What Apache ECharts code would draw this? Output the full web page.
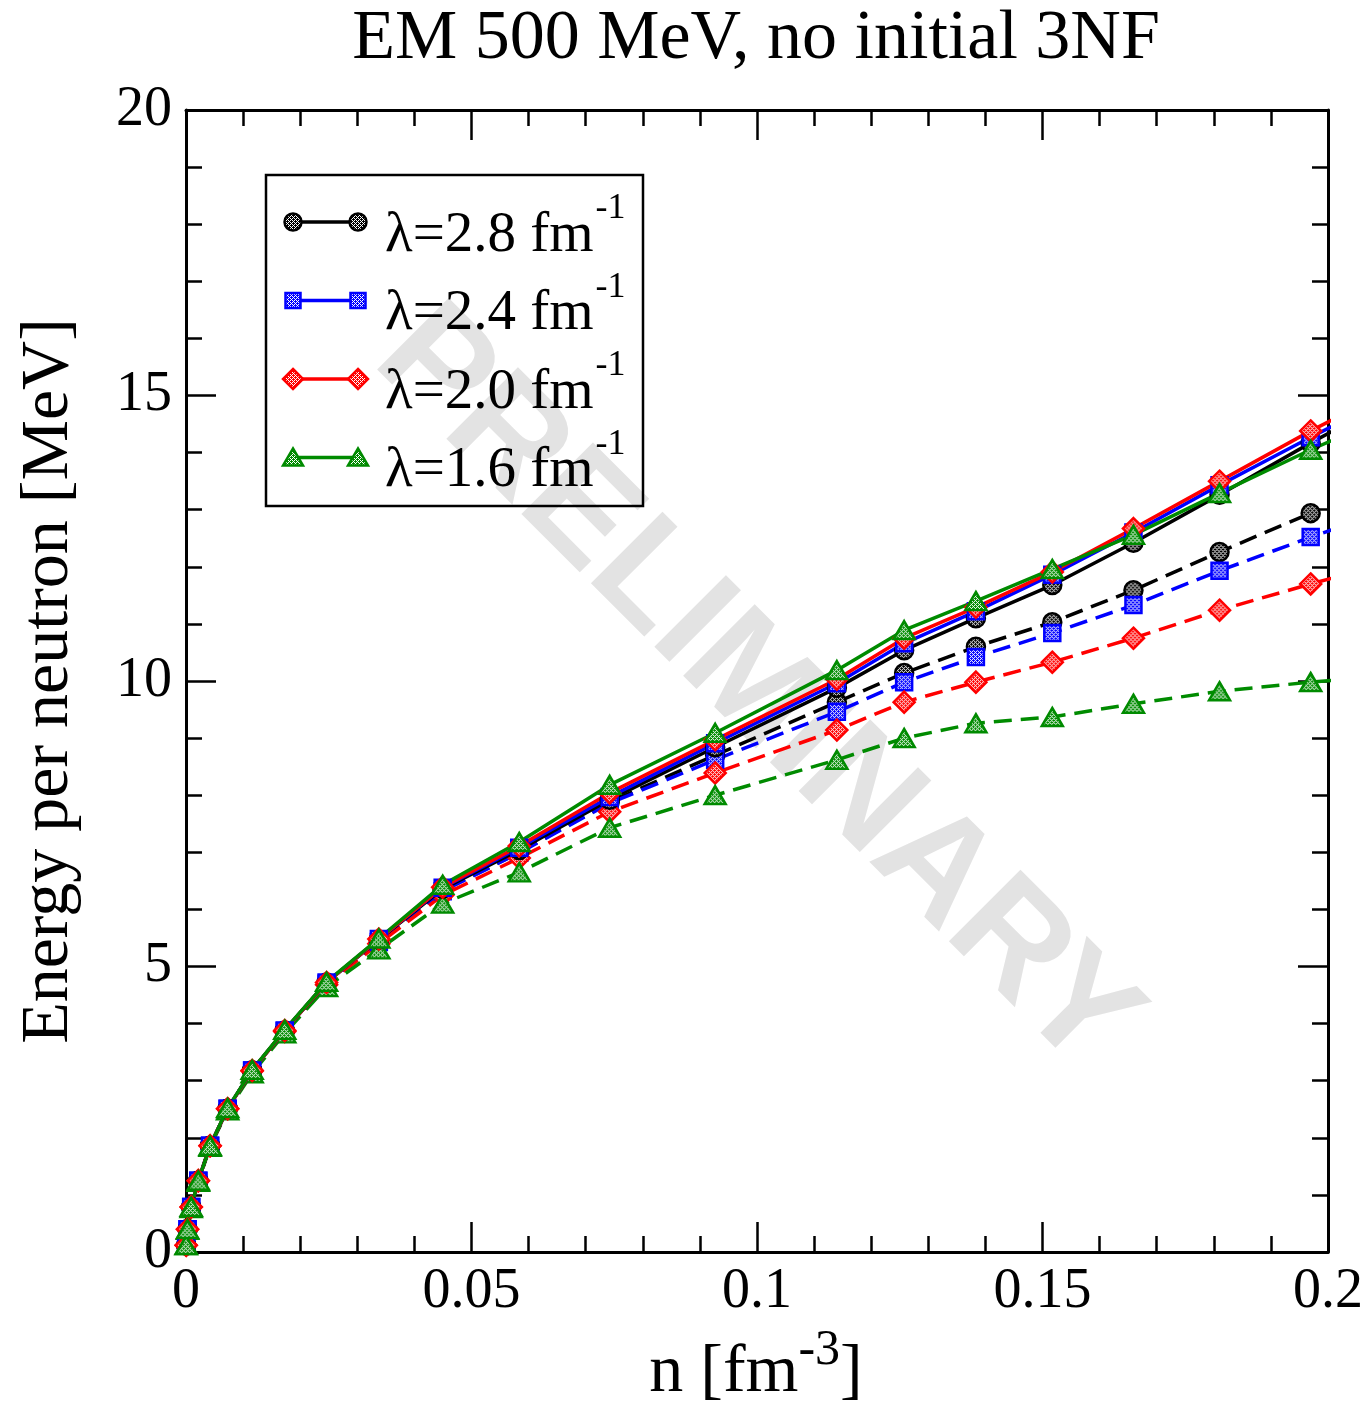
<!DOCTYPE html>
<html><head><meta charset="utf-8">
<script src="https://cdn.jsdelivr.net/npm/echarts/dist/echarts.min.js"></script>
<style>html,body{margin:0;padding:0;background:#fff}#c{width:1372px;height:1410px}</style>
</head><body><div id="c"></div>
<script>
// density n [fm^-3]
const density = [0.0000338,0.000270,0.000912,0.002161,0.004222,0.007295,0.011584,0.017292,0.024621,0.033774,0.044953,0.058361,0.074201,0.092675,0.113986,0.125769,0.138336,0.151715,0.165929,0.181005,0.196967,0.213842];
// solid lines
const solidL28 = [0.12,0.40,0.79,1.25,1.86,2.51,3.18,3.88,4.72,5.47,6.36,7.04,7.92,8.84,9.88,10.54,11.10,11.68,12.42,13.26,14.17,15.08];
const solidL24 = [0.12,0.40,0.79,1.25,1.86,2.51,3.18,3.88,4.72,5.48,6.38,7.08,7.97,8.91,9.96,10.66,11.22,11.86,12.60,13.43,14.27,15.12];
const solidL20 = [0.12,0.40,0.79,1.25,1.86,2.51,3.18,3.88,4.72,5.48,6.39,7.11,8.04,8.97,10.03,10.75,11.29,11.91,12.67,13.50,14.38,15.25];
const solidL16 = [0.12,0.40,0.79,1.25,1.86,2.52,3.19,3.89,4.73,5.49,6.43,7.18,8.18,9.09,10.19,10.89,11.40,11.96,12.56,13.29,14.05,14.78];
// dashed lines
const dashedL28 = [0.12,0.40,0.79,1.25,1.86,2.51,3.18,3.87,4.70,5.44,6.33,7.00,7.88,8.70,9.63,10.14,10.60,11.03,11.59,12.26,12.94];
const dashedL24 = [0.12,0.40,0.79,1.25,1.86,2.51,3.18,3.87,4.70,5.43,6.32,6.99,7.86,8.62,9.46,9.98,10.42,10.84,11.33,11.93,12.52,13.10];
const dashedL20 = [0.12,0.40,0.79,1.25,1.86,2.51,3.17,3.86,4.68,5.40,6.25,6.90,7.71,8.39,9.14,9.63,9.98,10.33,10.75,11.24,11.70,12.15];
const dashedL16 = [0.12,0.39,0.77,1.23,1.84,2.48,3.13,3.83,4.64,5.30,6.10,6.65,7.43,8.00,8.62,9.00,9.26,9.37,9.60,9.82,9.98,10.12];

const legendLabels = ['λ=2.8 fm','λ=2.4 fm','λ=2.0 fm','λ=1.6 fm'];
const legendSup = '-1';
const titleText = 'EM 500 MeV, no initial 3NF';
const yTitle = 'Energy per neutron [MeV]';
const xTitleMain = 'n [fm', xTitleSup = '-3', xTitleEnd = ']';
const watermark = 'PRELIMINARY';

const colors = ['#000000','#0000ff','#ff0000','#008b00'];
const symbols = ['circle','rect','diamond','triangle'];
const symSizes = [[18,18],[16,16],[21,21],[21,18]];
const solids = [solidL28, solidL24, solidL20, solidL16];
const dashes = [dashedL28, dashedL24, dashedL20, dashedL16];

function checker(col){
  const c=document.createElement('canvas'); c.width=4; c.height=4;
  const g=c.getContext('2d'); g.fillStyle=col; g.fillRect(0,0,4,4);
  g.fillStyle='#ffffff';
  g.fillRect(0,0,1,1); g.fillRect(2,2,1,1); g.fillRect(0,2,1,1); g.fillRect(2,0,1,1);
  g.fillRect(1,1,1,1); g.fillRect(3,3,1,1);
  return c;
}
const mctx = document.createElement('canvas').getContext('2d');
function tw(t, font){ mctx.font = font; return mctx.measureText(t).width; }

const SERIF = '"Liberation Serif", "Times New Roman", serif';

function mkSeries(vals, i, dashed){
  const sz = symSizes[i];
  return {
    type:'line', name: legendLabels[i] + (dashed ? ' (dashed)' : ''),
    data: vals.map((v,k)=>[density[k], v]),
    symbol: symbols[i], symbolSize: sz,
    showAllSymbol: true, clip: true, z: dashed ? 3 : 4,
    lineStyle:{color: colors[i], width: 3.5, type: dashed ? [18,9] : 'solid'},
    itemStyle:{color:{image: checker(colors[i]), repeat:'repeat', scaleX: 2/sz[0], scaleY: 2/sz[1]}, borderColor: colors[i], borderWidth: 2.5},
    emphasis:{disabled:true}
  };
}
const series = [];
for (let i=0;i<4;i++) series.push(mkSeries(dashes[i], i, true));
for (let i=0;i<4;i++) series.push(mkSeries(solids[i], i, false));

// graphic elements
const graphic = [];
graphic.push({type:'text', z:1, x:755, y:690, rotation:-Math.PI/4,
  style:{text: watermark, font:'bold 147px "Liberation Sans", Arial, sans-serif', fill:'#e3e3e3', align:'center', verticalAlign:'middle'}});
graphic.push({type:'text', z:10, x:756, y:40,
  style:{text:titleText, font:'70px '+SERIF, fill:'#000', align:'center', verticalAlign:'middle'}});
graphic.push({type:'text', z:10, x:49, y:681, rotation:Math.PI/2,
  style:{text:yTitle, font:'68px '+SERIF, fill:'#000', align:'center', verticalAlign:'middle'}});
// x title with superscript
(function(){
  const fm='68px '+SERIF, fs='50px '+SERIF;
  const w1=tw(xTitleMain,fm), w2=tw(xTitleSup,fs), w3=tw(xTitleEnd,fm);
  const x0 = 756 - (w1+w2+w3)/2, ym = 1373;
  graphic.push({type:'text', z:10, x:x0, y:ym, style:{text:xTitleMain, font:fm, fill:'#000', align:'left', verticalAlign:'middle'}});
  graphic.push({type:'text', z:10, x:x0+w1, y:ym-22, style:{text:xTitleSup, font:fs, fill:'#000', align:'left', verticalAlign:'middle'}});
  graphic.push({type:'text', z:10, x:x0+w1+w2, y:ym, style:{text:xTitleEnd, font:fm, fill:'#000', align:'left', verticalAlign:'middle'}});
})();
// legend box
graphic.push({type:'rect', z:10, shape:{x:266,y:175,width:377,height:331}, style:{fill:null, stroke:'#000', lineWidth:2.5}});
function marker(i, cx, cy){
  const st = {fill:{image: checker(colors[i]), repeat:'repeat'}, stroke: colors[i], lineWidth:2.5};
  if (i===0) return {type:'circle', z:11, shape:{cx, cy, r:8.5}, style:st};
  if (i===1) return {type:'rect', z:11, shape:{x:cx-7.5, y:cy-7.5, width:15, height:15}, style:st};
  if (i===2) return {type:'polygon', z:11, shape:{points:[[cx,cy-10],[cx+10,cy],[cx,cy+10],[cx-10,cy]]}, style:st};
  return {type:'polygon', z:11, shape:{points:[[cx,cy-9],[cx+10,cy+8],[cx-10,cy+8]]}, style:st};
}
for (let i=0;i<4;i++){
  const ly = 222 + i*78.5;
  const tm = 236 + i*78.5;
  graphic.push({type:'line', z:11, shape:{x1:293,y1:ly,x2:358,y2:ly}, style:{stroke:colors[i], lineWidth:3.5}});
  graphic.push(marker(i,293,ly));
  graphic.push(marker(i,358,ly));
  const fm='57px '+SERIF, fs='36px '+SERIF;
  const w = tw(legendLabels[i], fm);
  graphic.push({type:'text', z:11, x:385, y:tm, style:{text:legendLabels[i], font:fm, fill:'#000', align:'left', verticalAlign:'middle'}});
  graphic.push({type:'text', z:11, x:385+w+2, y:tm-27, style:{text:legendSup, font:fs, fill:'#000', align:'left', verticalAlign:'middle'}});
}

const lineSt = {color:'#000', width:3};
const tickSt = {color:'#000', width:2.5};
function fmt(v){ return String(parseFloat(Number(v).toFixed(3))); }
function axisCommon(extra){
  return Object.assign({
    type:'value', splitLine:{show:false},
    axisLine:{show:true, onZero:false, lineStyle:lineSt},
    axisTick:{show:true, inside:true, length:30, lineStyle:tickSt},
    minorTick:{show:true, splitNumber:5, length:16, lineStyle:tickSt},
    minorSplitLine:{show:false}
  }, extra);
}
const option = {
  animation:false,
  backgroundColor:'#fff',
  grid:{left:186, right:44, top:110, bottom:158, containLabel:false},
  xAxis:[
    axisCommon({min:0, max:0.2, interval:0.05, position:'bottom',
      axisLabel:{show:true, color:'#000', fontFamily:SERIF, fontSize:56, margin:12, showMinLabel:true, showMaxLabel:true, formatter:fmt}}),
    axisCommon({min:0, max:0.2, interval:0.05, position:'top', axisLabel:{show:false}})
  ],
  yAxis:[
    axisCommon({min:0, max:20, interval:5, position:'left',
      axisLabel:{show:true, color:'#000', fontFamily:SERIF, fontSize:56, margin:14, showMinLabel:true, showMaxLabel:true, formatter:fmt}}),
    axisCommon({min:0, max:20, interval:5, position:'right', axisLabel:{show:false}})
  ],
  series: series,
  graphic: graphic
};
const chart = echarts.init(document.getElementById('c'), null, {renderer:'canvas'});
chart.setOption(option);
</script>
</body></html>
